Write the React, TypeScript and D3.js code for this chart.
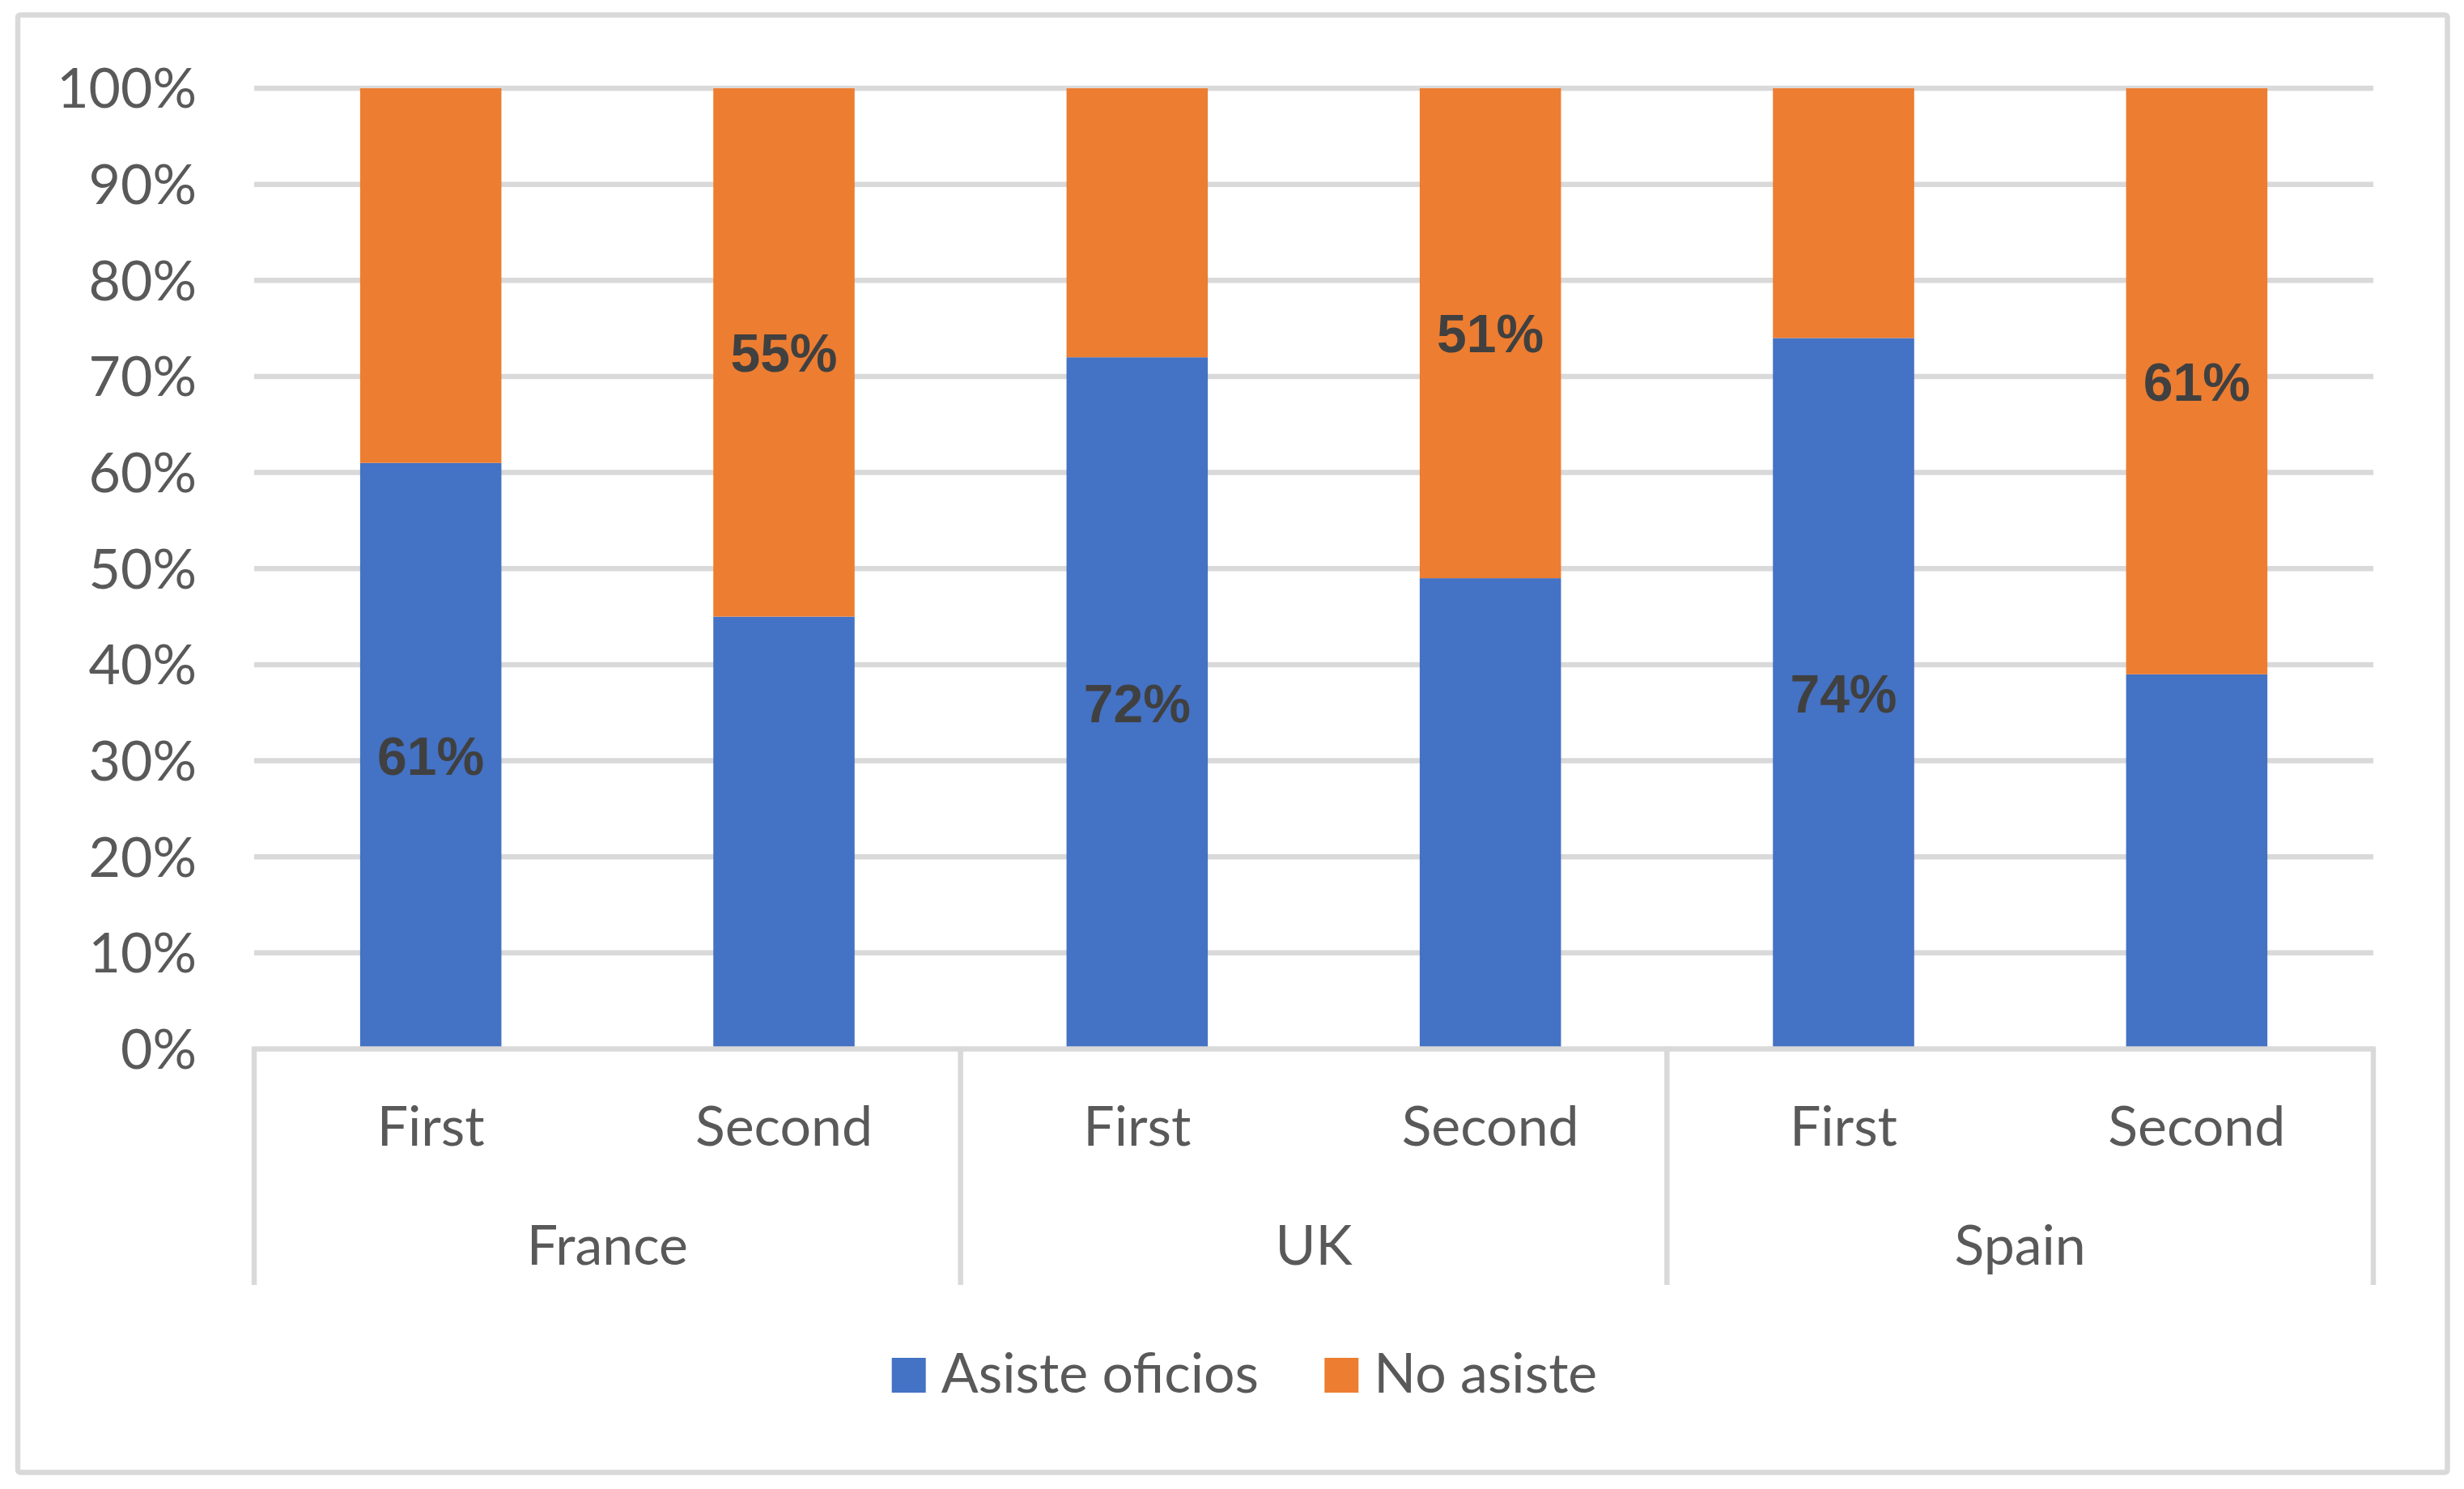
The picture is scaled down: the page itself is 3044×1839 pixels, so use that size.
import React from "react";
import * as d3 from "d3";

const groups = ["France", "UK", "Spain"];
const subCategories = ["First", "Second"];
const barLabels = ["First", "Second", "First", "Second", "First", "Second"];
const barGroups = ["France", "France", "UK", "UK", "Spain", "Spain"];
const asisteValues = [61, 45, 72, 49, 74, 39];
const noAsisteValues = [39, 55, 28, 51, 26, 61];
const labelledSeries = ["asiste", "noAsiste", "asiste", "noAsiste", "asiste", "noAsiste"];
const yTicks = [0, 10, 20, 30, 40, 50, 60, 70, 80, 90, 100];
const seriesNames = ["Asiste oficios", "No asiste"];
const seriesColors = ["#4472C4", "#ED7D31"];

const W = 3044;
const H = 1839;
const plotLeft = 314;
const plotRight = 2932;
const yBottom = 1295.5;
const yTop = 109;
const catFont = "Lato, 'Open Sans', sans-serif";
const labelFont = "'Liberation Sans', Arial, sans-serif";
const gridColor = "#D9D9D9";
const textColor = "#595959";

export default function App() {
  React.useEffect(() => {
    document.body.style.margin = "0";
    document.body.style.overflow = "hidden";
  }, []);

  const ids = barLabels.map((_, i) => String(i));
  const x = d3
    .scaleBand<string>()
    .domain(ids)
    .range([plotLeft, plotRight])
    .paddingInner(0.6)
    .paddingOuter(0.3);
  const y = d3.scaleLinear().domain([0, 100]).range([yBottom, yTop]);
  const step = x.step();
  const bw = x.bandwidth();

  const stackData = ids.map((id, i) => ({ id, asiste: asisteValues[i], noAsiste: noAsisteValues[i] }));
  const stack = d3.stack<any>().keys(["asiste", "noAsiste"]);
  const layers = stack(stackData);

  const fs = 68;
  const capHalf = fs * 0.7165 / 2;
  const labelFs = 66;
  const labelCapHalf = labelFs * 0.716 / 2;

  const sepX = d3.range(groups.length + 1).map((g) => plotLeft + g * subCategories.length * step);

  return (
    <svg width={W} height={H} style={{ position: "absolute", left: 0, top: 0, background: "#fff" }}>
      <rect x={0} y={0} width={W} height={H} fill="#fff" />
      <rect x={22} y={18.5} width={3001.5} height={1800} fill="#fff" stroke={gridColor} strokeWidth={6.5} rx={3} />

      {/* gridlines */}
      {yTicks.filter((t) => t > 0).map((t) => (
        <line key={t} x1={plotLeft} x2={plotRight} y1={y(t)} y2={y(t)} stroke={gridColor} strokeWidth={6.5} />
      ))}

      {/* y tick labels */}
      {yTicks.map((t) => (
        <text
          key={"l" + t}
          x={243}
          y={y(t) + capHalf}
          textAnchor="end"
          fontFamily={catFont}
          fontSize={fs}
          fill={textColor}
        >
          {t + "%"}
        </text>
      ))}

      {/* bars */}
      {layers.map((layer, si) =>
        layer.map((d, i) => (
          <rect
            key={si + "-" + i}
            x={x(ids[i])}
            y={y(d[1])}
            width={bw}
            height={y(d[0]) - y(d[1])}
            fill={seriesColors[si]}
          />
        ))
      )}

      {/* data labels */}
      {layers.map((layer, si) =>
        layer.map((d, i) =>
          labelledSeries[i] === layer.key ? (
            <text
              key={"dl" + si + "-" + i}
              x={(x(ids[i]) as number) + bw / 2}
              y={(y(d[0]) + y(d[1])) / 2 + labelCapHalf}
              textAnchor="middle"
              fontFamily={labelFont}
              fontWeight="bold"
              fontSize={labelFs}
              fill="#404040"
            >
              {(d[1] - d[0]) + "%"}
            </text>
          ) : null
        )
      )}

      {/* axis line */}
      <line x1={plotLeft} x2={plotRight} y1={yBottom} y2={yBottom} stroke={gridColor} strokeWidth={6.5} />

      {/* group separators */}
      {sepX.map((sx, k) => (
        <line key={"s" + k} x1={sx} x2={sx} y1={yBottom - 3} y2={1587} stroke={gridColor} strokeWidth={6.5} />
      ))}

      {/* sub category labels */}
      {barLabels.map((lab, i) => (
        <text
          key={"c" + i}
          x={(x(ids[i]) as number) + bw / 2}
          y={1415}
          textAnchor="middle"
          fontFamily={catFont}
          fontSize={fs}
          fill={textColor}
        >
          {lab}
        </text>
      ))}

      {/* group labels */}
      {groups.map((g, k) => (
        <text
          key={"g" + g}
          x={(sepX[k] + sepX[k + 1]) / 2}
          y={1561.5}
          textAnchor="middle"
          fontFamily={catFont}
          fontSize={fs}
          fill={textColor}
        >
          {g}
        </text>
      ))}

      {/* legend */}
      {seriesNames.map((name, k) => {
        const lx = k === 0 ? 1101.7 : 1636.3;
        return (
          <g key={"leg" + k}>
            <rect x={lx} y={1677} width={42} height={43} fill={seriesColors[k]} />
            <text x={lx + 61} y={1720} fontFamily={catFont} fontSize={fs} fill={textColor}>
              {name}
            </text>
          </g>
        );
      })}
    </svg>
  );
}
